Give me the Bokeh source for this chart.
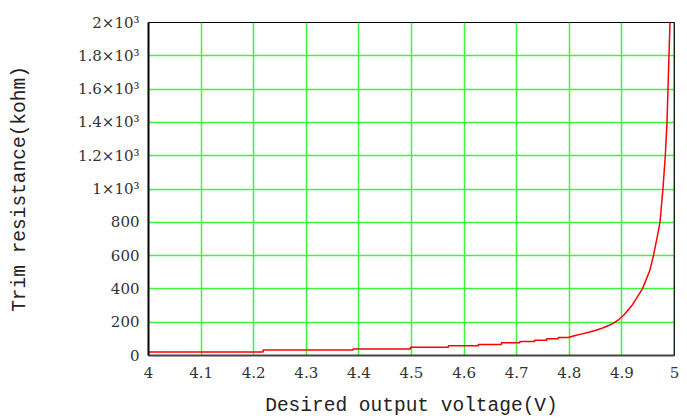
from bokeh.plotting import figure
from bokeh.models import FixedTicker, Range1d, Span
from bokeh.embed import file_html
from bokeh.resources import INLINE

# Data
voltage = [4.000, 4.218, 4.218, 4.389, 4.389, 4.498, 4.498, 4.570, 4.570, 4.627,
           4.627, 4.671, 4.671, 4.706, 4.706, 4.734, 4.734, 4.757, 4.757, 4.779,
           4.779, 4.798, 4.811, 4.824, 4.837, 4.849, 4.862, 4.875, 4.885, 4.894,
           4.903, 4.911, 4.919, 4.939, 4.953, 4.960, 4.967, 4.9724, 4.978, 4.9825,
           4.9857, 4.9876, 4.9895, 4.9914, 4.9920]
resistance = [21, 21, 33, 33, 39, 39, 49, 49, 58, 58,
              66, 66, 76, 76, 84, 84, 92, 92, 100, 100,
              108, 108, 120, 130, 140, 150, 164, 180, 196, 216,
              240, 270, 300, 400, 510, 600, 710, 800, 1000, 1200,
              1400, 1600, 1800, 2000, 2100]

x_ticks = [4.0, 4.1, 4.2, 4.3, 4.4, 4.5, 4.6, 4.7, 4.8, 4.9, 5.0]
x_tick_labels = ["4", "4.1", "4.2", "4.3", "4.4", "4.5", "4.6", "4.7", "4.8", "4.9", "5"]
y_ticks = [0, 200, 400, 600, 800, 1000, 1200, 1400, 1600, 1800, 2000]
y_tick_labels = ["0", "200", "400", "600", "800", "1×10³", "1.2×10³", "1.4×10³",
                 "1.6×10³", "1.8×10³", "2×10³"]

p = figure(width=687, height=419, output_backend="svg", toolbar_location=None,
           x_range=Range1d(4.0, 5.0), y_range=Range1d(0, 2000),
           min_border_left=148, min_border_right=13, min_border_top=22,
           min_border_bottom=64)

p.background_fill_color = "white"
p.border_fill_color = "white"
p.outline_line_color = "black"
p.outline_line_width = 1

# grid
for g in (p.xgrid, p.ygrid):
    g.grid_line_color = "#3cf53c"
    g.grid_line_width = 1.5
p.xgrid.ticker = FixedTicker(ticks=x_ticks)
p.ygrid.ticker = FixedTicker(ticks=y_ticks)

# axes
p.xaxis.ticker = FixedTicker(ticks=x_ticks)
p.yaxis.ticker = FixedTicker(ticks=y_ticks)
p.xaxis.major_label_overrides = {t: l for t, l in zip(x_ticks, x_tick_labels)}
p.yaxis.major_label_overrides = {t: l for t, l in zip(y_ticks, y_tick_labels)}

for ax in (p.xaxis, p.yaxis):
    ax.major_tick_line_color = None
    ax.minor_tick_line_color = None
    ax.major_label_text_font = "DejaVu Serif"
    ax.major_label_text_font_size = "15px"
    ax.major_label_text_color = "#333333"
    ax.axis_label_text_font = "Liberation Mono"
    ax.axis_label_text_font_size = "19.5px"
    ax.axis_label_text_font_style = "normal"
    ax.axis_label_text_color = "#222222"

p.yaxis.axis_line_color = "black"
p.yaxis.axis_line_width = 2
p.xaxis.axis_line_color = "#444444"
p.xaxis.axis_line_width = 2
p.yaxis.major_label_standoff = 3
p.xaxis.major_label_standoff = 5
p.yaxis.axis_label = "Trim resistance(kohm)"
p.xaxis.axis_label = "Desired output voltage(V)"
p.yaxis.axis_label_standoff = 44
p.xaxis.axis_label_standoff = 14

p.add_layout(Span(location=5.0, dimension="height", line_color="#2a4a2a", line_width=2))

p.line(voltage, resistance, line_color="#ff0000", line_width=1.5)

open("out.html", "w").write(file_html(p, INLINE))
